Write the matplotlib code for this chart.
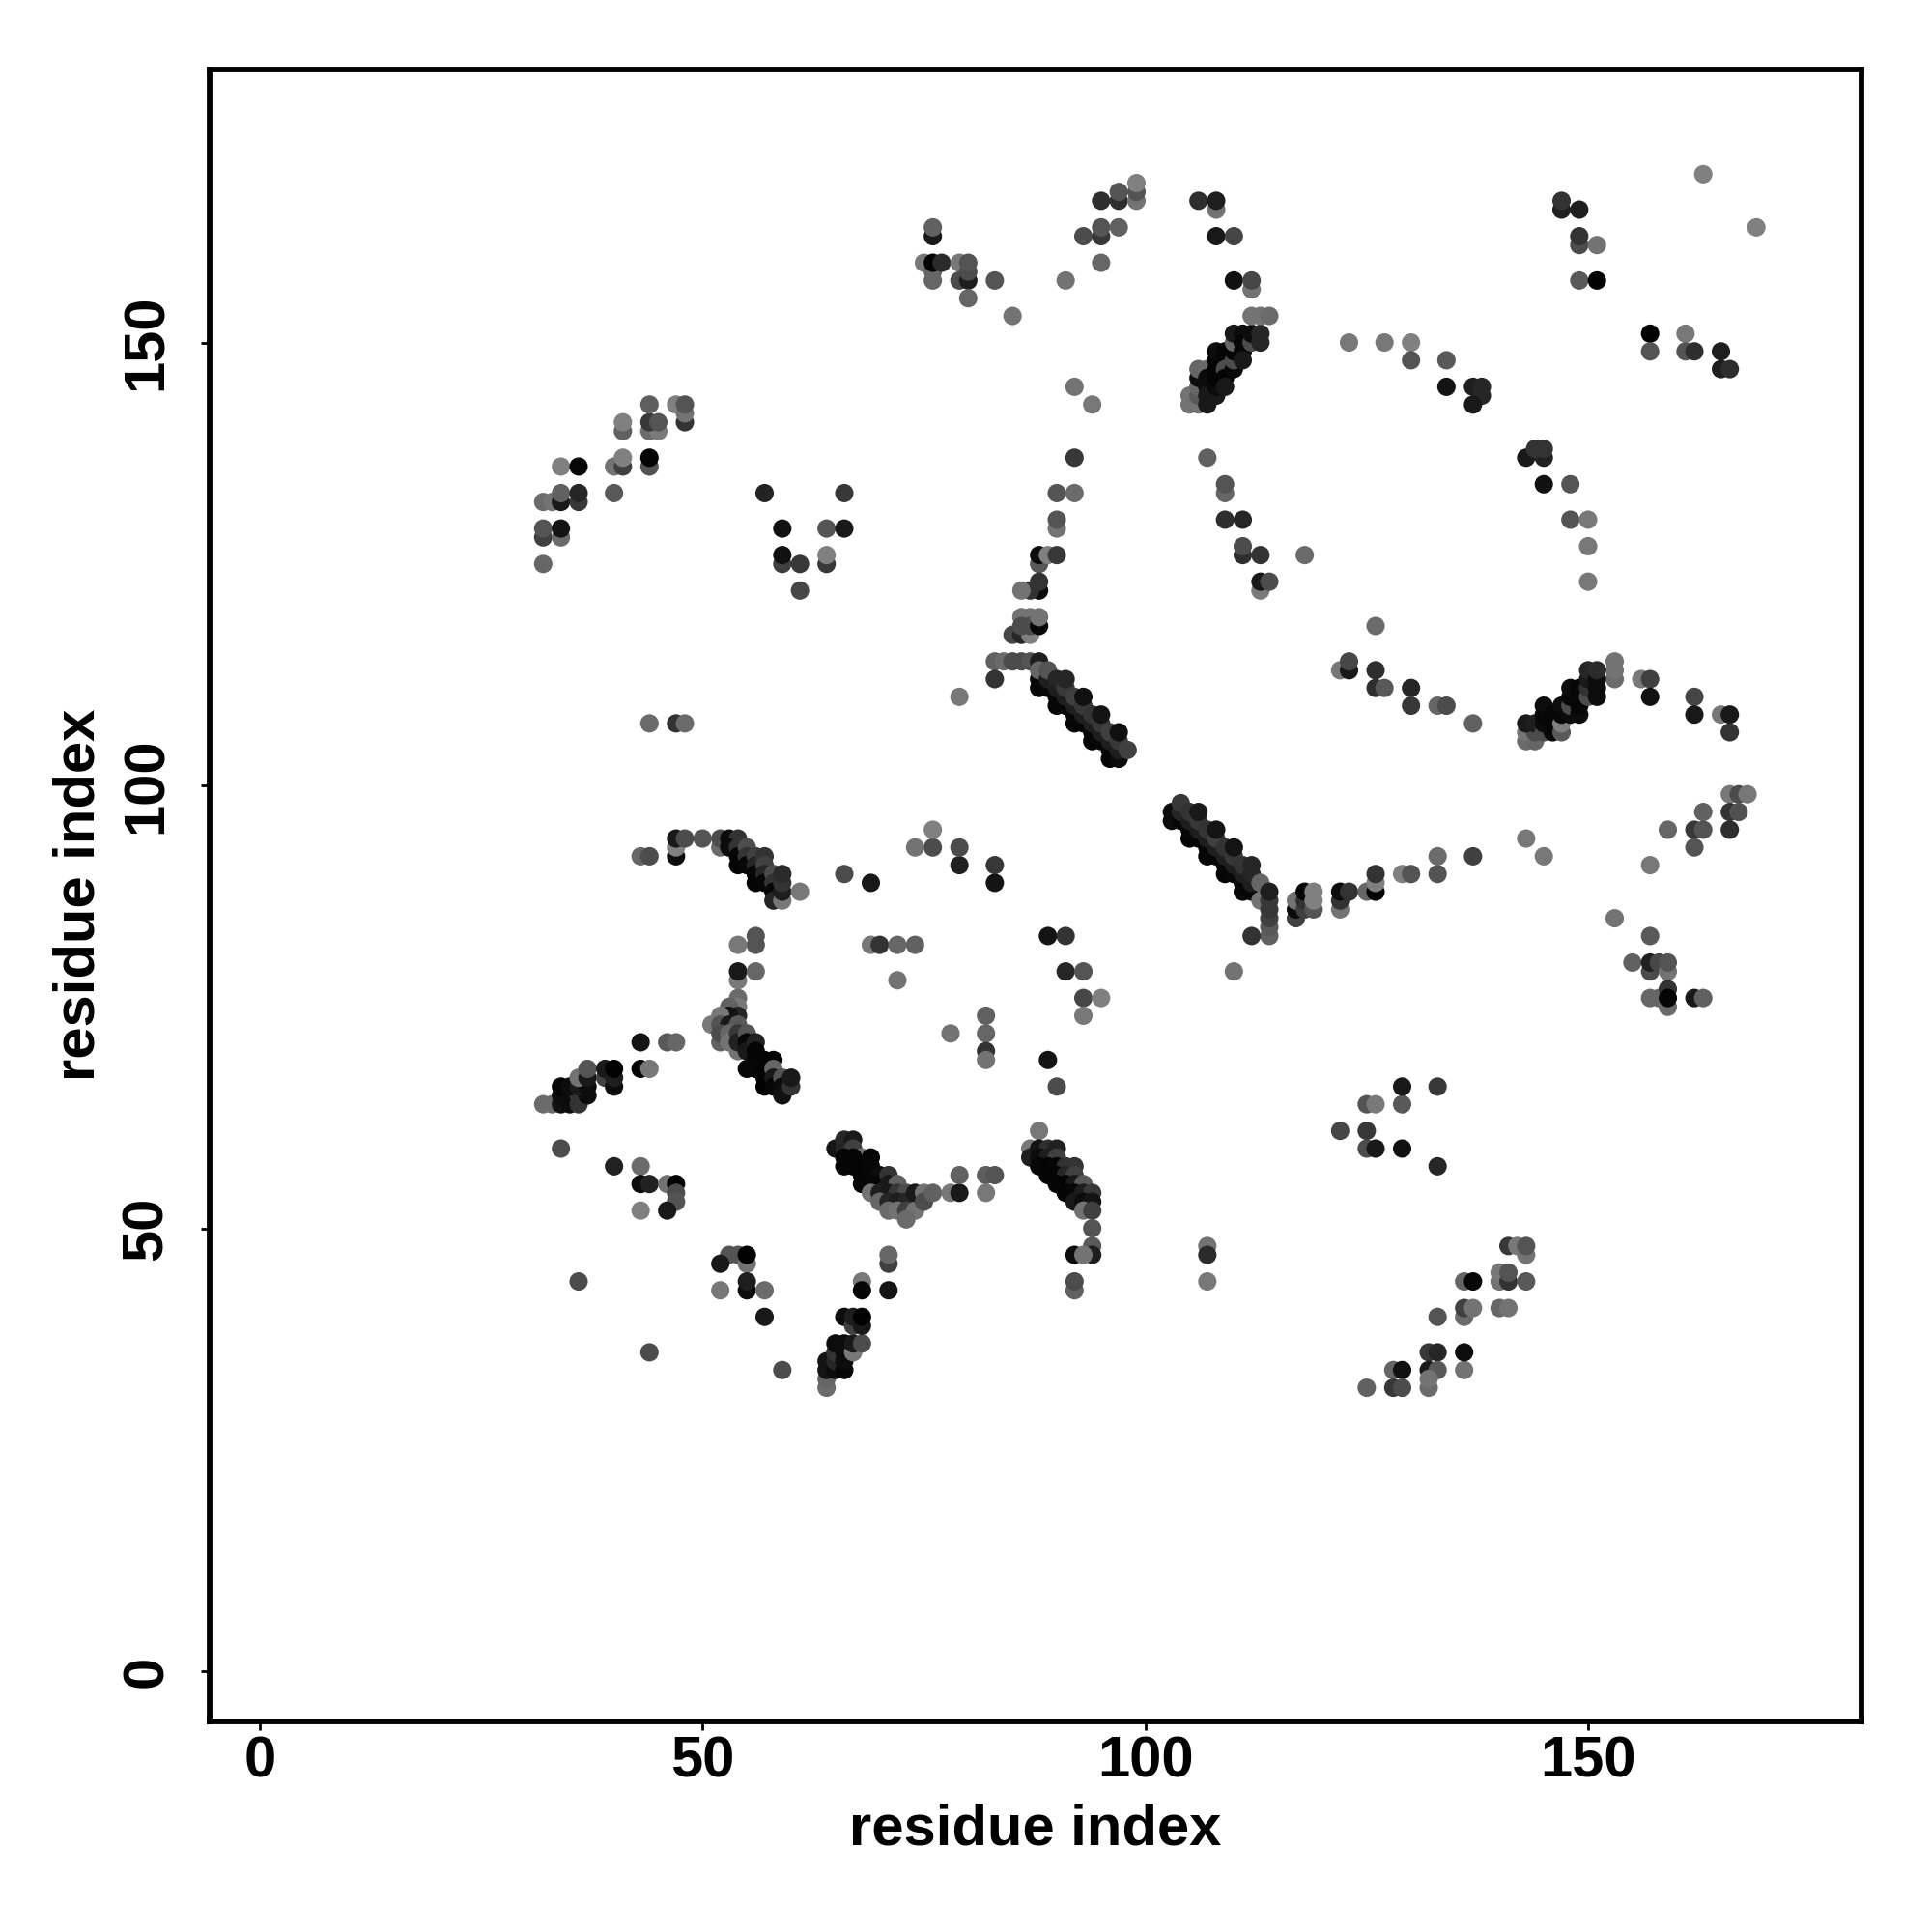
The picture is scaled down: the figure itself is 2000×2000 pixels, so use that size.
import matplotlib
matplotlib.use("Agg")
import matplotlib.pyplot as plt

# contacts: (residue x, residue y, grey level)
left_arm = [(32,125,.4),(32,128,.25),(32,129,.33),(34,128,.42),(34,129,.08),(32,132,.42),(33,132,.45),(34,132,.1),(34,133,.38),
            (36,132,.22),(36,133,.15),(34,136,.5),(36,136,.03),(40,133,.35),(40,136,.45),(41,136,.25),(41,137,.5),
            (44,136,.33),(44,137,.02),(41,140,.38),(41,141,.5),(44,140,.42),(45,140,.48),(44,141,.22),(45,141,.33),
            (44,143,.37),(47,143,.5),(48,141,.2),(48,142,.45),(48,143,.33)]
v_shape = [(57,133,.14),(66,133,.22),(59,129,.07),(64,129,.33),(66,129,.1),(59,125,.25),(59,126,.07),(61,125,.22),
           (64,125,.22),(64,126,.5),(61,122,.28)]
top_mid = [(76,162,.1),(76,163,.38),(75,159,.47),(76,157,.4),(76,158,.4),(76,159,.02),(77,159,.17),(79,159,.47),(79,157,.3),
           (80,157,.12),(80,158,.3),(80,159,.33),(80,155,.4),(83,157,.33),(85,153,.45),(91,157,.45),(95,159,.4),
           (93,162,.3),(95,162,.22),(95,163,.33),(97,163,.38),(95,166,.18),(97,166,.18),(97,167,.33),
           (99,166,.45),(99,167,.33),(99,168,.5),(92,145,.45),(94,143,.47),(92,137,.22),(90,133,.33),(92,133,.42),
           (90,129,.45),(90,130,.33)]
stem = [(88,125,.35),(88,126,.05),(89,126,.5),(90,126,.22),(88,122,.05),(88,123,.2),(87,122,.2),(86,122,.45),
        (86,119,.45),(87,119,.45),(85,117,.28),(86,117,.15),(87,117,.5),(86,118,.3),(87,118,.3),(88,118,.03),(88,119,.45),
        (83,114,.38),(84,114,.42),(85,114,.3),(86,114,.3),(87,114,.33),(88,114,.12),(83,112,.2),(79,110,.47),
        (44,107,.42),(47,107,.2),(48,107,.42)]
band_a = [(88,111,.02),(90,109,.02),(92,107,.02),(94,105,.02),(96,103,.02),
          (88,112,.03),(89,111,.03),(90,110,.03),(91,109,.03),(92,108,.03),(93,107,.03),(94,106,.03),(95,105,.03),(96,104,.03),(97,103,.05),
          (88,113,.4),(89,112,.12),(90,111,.12),(91,110,.12),(92,109,.12),(93,108,.12),(94,107,.12),(95,106,.12),(96,105,.12),(97,104,.12),
          (89,113,.33),(90,112,.15),(91,111,.22),(92,110,.25),(93,109,.22),(94,108,.2),(95,107,.22),(96,106,.25),(97,105,.22),(98,104,.25),
          (91,112,.15),(93,110,.07),(95,108,.08),(97,106,.07)]
band_b = [(103,96,.05),(105,94,.02),(107,92,.02),(109,90,.02),(111,88,.04),
          (103,97,.05),(104,96,.03),(105,95,.03),(106,94,.03),(107,93,.03),(108,92,.03),(109,91,.03),(110,90,.03),(111,89,.03),(112,88,.03),
          (104,97,.15),(105,96,.12),(106,95,.12),(107,94,.12),(108,93,.12),(109,92,.12),(110,91,.12),(111,90,.12),(112,89,.12),
          (104,98,.22),(105,97,.2),(106,96,.22),(107,95,.2),(108,94,.25),(109,93,.2),(110,92,.22),(111,91,.2),(112,90,.15),
          (106,97,.1),(108,95,.08),(110,93,.08),(112,91,.15),(113,89,.4),(113,87,.45),(114,83,.38),(114,84,.35),(114,85,.25),
          (114,86,.22),(114,87,.22),(114,88,.12),(112,83,.2)]
upper_helix = [(105,143,.45),(105,144,.45),(106,143,.45),(106,144,.35),(106,145,.4),(106,146,.05),(106,147,.4),(107,147,.42),
               (107,146,.05),(107,145,.05),(107,144,.1),(107,143,.1),(108,144,.1),(108,145,.05),(108,146,.02),(108,147,.02),
               (108,148,.02),(108,149,.05),(109,149,.02),(109,148,.02),(109,147,.3),(109,146,.02),(109,145,.1),(110,147,.03),
               (110,148,.3),(110,149,.02),(110,150,.4),(110,151,.1),(111,151,.05),(111,150,.03),(111,149,.03),(111,148,.1),
               (112,150,.3),(112,151,.05),(113,150,.15),(113,151,.15)]
upper_right = [(106,166,.18),(108,165,.45),(108,166,.12),(108,162,.1),(110,162,.27),(112,156,.45),(110,157,.07),(112,157,.28),
               (112,153,.45),(113,153,.45),(114,153,.42),(123,150,.47),(127,150,.47),(130,150,.5),(130,148,.33),(134,148,.35),
               (134,145,.08),(137,145,.12),(138,145,.15),(138,144,.15),(137,143,.1),(107,137,.38),(109,133,.4),(109,134,.33),
               (109,130,.18),(111,130,.15),(111,126,.18),(111,127,.3),(113,126,.2),(118,126,.42),(113,122,.48),(113,123,.1),(114,123,.3),
               (147,165,.13),(147,166,.2),(149,165,.12),(149,161,.3),(149,162,.2),(151,161,.45),(149,157,.35),(151,157,.01),
               (157,151,.01),(157,149,.33),(161,151,.47),(161,149,.33),(162,149,.18),(165,149,.12),(165,147,.12),(166,147,.18),
               (163,169,.5),(169,163,.5),(143,137,.1),(145,137,.13),(144,138,.2),(145,138,.2),(145,134,.07),(148,134,.33),
               (148,130,.33),(150,130,.47),(150,127,.47),(150,123,.47)]
mid_right = [(126,118,.42),(122,113,.47),(123,113,.1),(123,114,.28),(126,113,.18),(126,111,.18),(127,111,.35),(130,111,.15),
             (130,109,.22),(133,109,.4),(134,109,.3),(137,107,.38),(153,112,.42),(153,113,.45),(153,114,.45),(156,112,.47),
             (157,112,.25),(157,110,.07),(162,110,.27),(162,108,.1),(165,108,.47),(166,108,.1),(166,106,.2)]
mid_helix = [(143,105,.42),(144,105,.4),(143,106,.45),(144,106,.3),(143,107,.1),(144,107,.12),(145,106,.3),(145,107,.05),(145,108,.03),(145,109,.05),
             (146,106,.03),(146,107,.03),(146,108,.03),(147,106,.35),(147,107,.5),(147,108,.03),(147,109,.05),(148,108,.05),
             (148,109,.3),(148,110,.03),(148,111,.05),(149,108,.05),(149,109,.03),(149,110,.03),(149,111,.03),(150,110,.3),
             (150,111,.2),(150,112,.1),(150,113,.15),(151,110,.05),(151,111,.05),(151,112,.05),(151,113,.17)]
lower_right = [(166,99,.47),(167,99,.3),(168,99,.47),(166,97,.2),(167,97,.32),(163,97,.38),(162,95,.22),(163,95,.33),(166,95,.18),
               (159,95,.4),(162,93,.33),(157,91,.47),(143,94,.47),(145,92,.47),(153,85,.45),(157,83,.35),(155,80,.38),
               (157,79,.3),(157,80,.13),(158,80,.28),(159,79,.45),(159,80,.33),(157,76,.4),(158,76,.4),(159,75,.42),(159,77,.2),(159,76,.02),
               (162,76,.1),(163,76,.38)]
chain_88 = [(117,85,.25),(117,86,.05),(117,87,.45),(118,86,.25),(118,87,.2),(118,88,.02),(119,86,.33),(119,87,.5),(119,88,.5),
            (122,86,.45),(122,87,.2),(122,88,.05),(123,88,.2),(125,88,.4),(126,88,.02),(126,89,.5),(126,90,.2),(129,90,.5),
            (130,90,.33),(133,90,.33),(133,92,.42),(137,92,.25)]
below_bands = [(83,89,.08),(83,91,.22),(79,91,.13),(79,93,.3),(76,93,.3),(74,93,.45),(76,95,.5),(89,83,.08),(91,83,.2),
               (91,79,.15),(93,79,.33),(93,76,.28),(95,76,.5),(93,74,.47),(82,74,.38),(82,72,.4),(82,70,.2),(82,69,.45),
               (78,72,.45),(110,79,.45),(89,69,.08),(90,66,.3),(88,61,.47)]
row_94 = [(43,92,.4),(44,92,.3),(47,92,.05),(47,93,.5),(47,94,.1),(48,94,.3),(50,94,.33),(52,93,.42),(52,94,.3),(53,94,.05),(54,94,.2),
          (53,93,.05),(54,93,.2),(54,92,.03),(54,91,.02),(55,93,.3),(55,92,.2),(55,91,.03),(56,92,.25),(56,91,.15),(56,90,.03),
          (56,89,.02),(57,92,.2),(57,91,.25),(57,90,.15),(57,89,.03),(58,90,.3),(58,89,.2),(58,88,.03),(58,87,.15),
          (59,87,.47),(59,88,.12),(59,89,.2),(59,90,.17),(61,88,.47),(66,90,.3),(69,89,.1)]
row_82 = [(56,83,.33),(56,82,.33),(54,82,.47),(54,78,.48),(54,79,.1),(56,79,.4),(69,82,.47),(70,82,.2),(72,82,.4),(74,82,.38),(72,78,.45)]
helix_70 = [(54,76,.42),(54,75,.47),(53,75,.38),(54,74,.15),(53,74,.08),(52,74,.47),(51,73,.47),(52,73,.33),(53,73,.1),(54,73,.35),
            (52,71,.38),(52,72,.3),(53,72,.4),(53,71,.45),(54,72,.22),(54,70,.45),(54,71,.13),(55,72,.33),(55,71,.03),(55,70,.1),
            (56,71,.13),(56,70,.02),(56,69,.02),(55,68,.03),(56,68,.03),(57,69,.02),(58,69,.01),(57,68,.02),(57,67,.02),(57,66,.01),
            (58,68,.4),(58,67,.1),(58,66,.03),(59,67,.33),(59,66,.05),(59,65,.07),(60,66,.2),(60,67,.1)]
left_helix = [(32,64,.42),(33,64,.42),(34,64,.07),(35,64,.05),(34,65,.05),(35,65,.05),(36,65,.2),(36,64,.2),(37,65,.05),(34,66,.02),
              (35,66,.05),(36,66,.1),(37,66,.05),(36,67,.45),(37,67,.1),(37,68,.33),(39,67,.25),(39,68,.1),(40,66,.05),
              (40,67,.12),(40,68,.01),(43,71,.08),(46,71,.35),(47,71,.4),(43,68,.02),(44,68,.47)]
band_c = [(65,59,.08),(66,59,.15),(66,60,.15),(67,60,.1),(67,59,.25),(68,58,.45),(69,58,.02),(66,58,.02),(67,58,.02),(66,57,.02),
          (67,57,.02),(68,57,.02),(69,57,.03),(68,56,.02),(69,56,.03),(70,56,.05),(68,55,.02),(69,55,.03),(70,55,.03),
          (71,56,.2),(71,55,.1),(72,55,.38),(69,54,.45),(70,54,.12),(71,54,.1),(72,54,.22),(73,54,.3),(70,53,.4),(71,53,.15),
          (72,53,.12),(73,53,.15),(74,53,.15),(71,52,.42),(72,52,.45),(73,52,.25),(74,52,.45),(73,51,.42),(74,54,.1),(75,54,.45),
          (75,53,.3),(76,54,.38),(78,54,.47),(79,54,.1),(79,56,.38),(82,56,.37),(83,56,.33),(82,54,.47)]
band_d = [(87,59,.47),(87,58,.12),(88,59,.08),(89,59,.18),(90,59,.13),(88,58,.05),(89,58,.12),(90,58,.25),(88,57,.03),(89,57,.02),
          (90,57,.03),(91,57,.2),(92,57,.2),(89,56,.02),(90,56,.02),(91,56,.15),(92,56,.25),(90,55,.02),(91,55,.02),(92,55,.1),
          (93,55,.35),(91,54,.02),(92,54,.03),(93,54,.12),(94,54,.22),(92,53,.1),(93,53,.05),(94,53,.08),(93,52,.45),(94,52,.25),
          (94,50,.33),(94,48,.35),(92,47,.05),(94,47,.12),(93,47,.45),(92,43,.38),(92,44,.3),(107,48,.45),(107,47,.17),(107,44,.47)]
low_left = [(34,59,.3),(40,57,.13),(43,57,.42),(43,55,.05),(44,55,.13),(46,55,.45),(47,55,.01),(47,54,.3),(47,53,.33),(46,52,.1),
            (43,52,.5),(53,47,.33),(54,47,.33),(55,46,.45),(55,47,.01),(52,46,.1),(52,43,.47),(55,43,.05),(55,44,.12),(57,43,.42),
            (57,40,.1),(36,44,.3),(44,36,.3),(59,34,.3),(71,46,.25),(71,47,.4),(68,44,.47),(68,43,.02),(71,43,.08)]
low_helix = [(64,32,.42),(64,33,.4),(64,34,.08),(64,35,.08),(65,34,.05),(65,35,.15),(65,36,.2),(65,37,.05),(66,34,.03),(66,35,.05),
             (66,36,.05),(66,37,.05),(67,36,.47),(67,37,.1),(68,37,.3),(66,40,.05),(67,39,.25),(67,40,.12),(68,39,.1),(68,40,.01)]
low_mid = [(125,64,.33),(126,64,.48),(129,64,.35),(129,66,.1),(133,66,.22),(122,61,.28),(125,61,.22),(125,59,.3),(126,59,.1),
           (129,59,.07),(133,57,.15)]
low_corner = [(133,40,.33),(132,36,.22),(133,36,.15),(128,34,.4),(129,34,.07),(132,34,.1),(133,34,.35),(132,32,.42),(132,33,.45),
              (125,32,.38),(128,32,.22),(129,32,.3),(136,34,.45),(136,36,.05),(136,40,.42),(136,41,.25),(137,41,.45),
              (136,44,.4),(137,44,.03),(140,41,.4),(141,41,.45),(140,44,.45),(140,45,.47),(141,44,.2),(141,45,.33),(143,44,.35),
              (141,48,.22),(142,48,.47),(143,47,.45),(143,48,.33)]

regions = [left_arm, v_shape, top_mid, stem, band_a, band_b, upper_helix, upper_right, mid_right, mid_helix,
           lower_right, chain_88, below_bands, row_94, row_82, helix_70, left_helix, band_c, band_d, low_left,
           low_helix, low_mid, low_corner]
ticks = [0, 50, 100, 150]

xs, ys, greys = [], [], []
for region in regions:
    for x, y, g in region:
        xs.append(x)
        ys.append(y)
        greys.append(g)

plt.rcParams['font.family'] = ['Liberation Sans', 'DejaVu Sans']
plt.rcParams['font.weight'] = 'bold'

fig = plt.figure(figsize=(10, 10), dpi=200)
ax = fig.add_axes([217 / 2000, 218 / 2000, 1710 / 2000, 1710.5 / 2000])
ax.scatter(xs, ys, c=greys, cmap='gray', vmin=0, vmax=1, s=47, linewidths=0)
ax.set_xlim(-5.67, 180.87)
ax.set_ylim(-5.67, 180.87)
ax.set_xticks(ticks)
ax.set_yticks(ticks)
ax.tick_params(axis='both', length=3.4, width=1.0, labelsize=21.5)
ax.tick_params(axis='x', pad=2)
ax.tick_params(axis='y', pad=9.9)
for lab in ax.get_yticklabels():
    lab.set_rotation(90)
    lab.set_va('center')
for side in ax.spines.values():
    side.set_linewidth(2.1)
ax.set_xlabel('residue index', fontsize=21.5, fontweight='bold', labelpad=5.3)
ax.set_ylabel('residue index', fontsize=21.5, fontweight='bold', labelpad=5.5)
fig.savefig('out.png', dpi=200)
